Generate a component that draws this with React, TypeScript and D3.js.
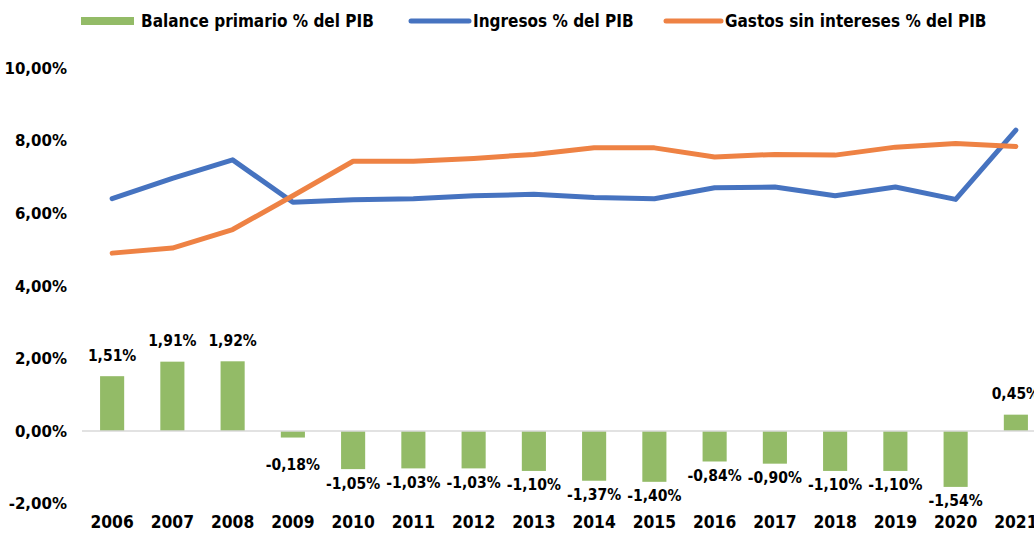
import React from 'react';
import * as d3 from 'd3';

const years = ['2006', '2007', '2008', '2009', '2010', '2011', '2012', '2013', '2014', '2015', '2016', '2017', '2018', '2019', '2020', '2021'];
const balance = [1.51, 1.91, 1.92, -0.18, -1.05, -1.03, -1.03, -1.10, -1.37, -1.40, -0.84, -0.90, -1.10, -1.10, -1.54, 0.45];
const ingresos = [6.40, 6.96, 7.47, 6.30, 6.37, 6.40, 6.48, 6.52, 6.43, 6.40, 6.70, 6.72, 6.48, 6.72, 6.38, 8.29];
const gastos = [4.90, 5.04, 5.55, 6.48, 7.43, 7.43, 7.51, 7.62, 7.80, 7.80, 7.55, 7.62, 7.60, 7.82, 7.92, 7.84];
const yTicks = [-2, 0, 2, 4, 6, 8, 10];
const legendLabels = ['Balance primario % del PIB', 'Ingresos % del PIB', 'Gastos sin intereses % del PIB'];

const GREEN = '#93bb67';
const BLUE = '#4673c0';
const ORANGE = '#ee8244';
const FONT = '"DejaVu Sans Condensed", "Liberation Sans Narrow", sans-serif';

const fmt = (v: number) => v.toFixed(2).replace('.', ',') + '%';

const App = () => {
    const width = 1034;
    const height = 535;

    const x = d3.scaleBand()
        .domain(years)
        .range([82, 1046])
        .paddingInner(0.6)
        .paddingOuter(0.3);

    const y = d3.scaleLinear()
        .domain([-2, 10])
        .range([503.6, 68]);

    const cx = (yr: string) => (x(yr) as number) + x.bandwidth() / 2;

    const line = d3.line<number>()
        .x((_, i) => cx(years[i]))
        .y(d => y(d));

    return (
        <svg width={width} height={height} style={{ position: 'absolute', left: 0, top: 0, background: '#fff' }} fontFamily={FONT}>
            {/* legend */}
            <g fontSize={17} fontWeight="bold" fill="#000">
                <rect x={81} y={17} width={53} height={8} fill={GREEN} />
                <text x={141} y={27}>{legendLabels[0]}</text>
                <line x1={411} x2={469} y1={21} y2={21} stroke={BLUE} strokeWidth={5} strokeLinecap="round" />
                <text x={473} y={27}>{legendLabels[1]}</text>
                <line x1={666} x2={721} y1={21} y2={21} stroke={ORANGE} strokeWidth={5} strokeLinecap="round" />
                <text x={725} y={27}>{legendLabels[2]}</text>
            </g>

            {/* y axis labels */}
            <g fontSize={16.7} fontWeight="bold" textAnchor="end">
                {yTicks.map(t => (
                    <text key={t} x={67} y={y(t)} dy="0.35em">{fmt(t)}</text>
                ))}
            </g>

            {/* bars */}
            {balance.map((v, i) => (
                <rect key={years[i]} x={x(years[i])} width={x.bandwidth()}
                    y={Math.min(y(v), y(0))} height={Math.abs(y(v) - y(0))} fill={GREEN} />
            ))}

            {/* zero line */}
            <line x1={82} x2={width} y1={y(0)} y2={y(0)} stroke="#d9d9d9" strokeWidth={1.5} />

            {/* lines */}
            <path d={line(ingresos) || ''} fill="none" stroke={BLUE} strokeWidth={5} strokeLinecap="round" strokeLinejoin="round" />
            <path d={line(gastos) || ''} fill="none" stroke={ORANGE} strokeWidth={5} strokeLinecap="round" strokeLinejoin="round" />

            {/* bar labels */}
            <g fontSize={15.5} textAnchor="middle" fontWeight={600}>
                {balance.map((v, i) => {
                    const ly = v >= 0 ? y(v) - 21 : Math.max(y(v) + 14, y(0) + 34);
                    return <text key={years[i]} x={cx(years[i])} y={ly} dy="0.35em">{fmt(v)}</text>;
                })}
            </g>

            {/* x axis labels */}
            <g fontSize={17.3} fontWeight="bold" textAnchor="middle">
                {years.map(yr => (
                    <text key={yr} x={cx(yr)} y={522} dy="0.35em">{yr}</text>
                ))}
            </g>
        </svg>
    );
};

export default App;
